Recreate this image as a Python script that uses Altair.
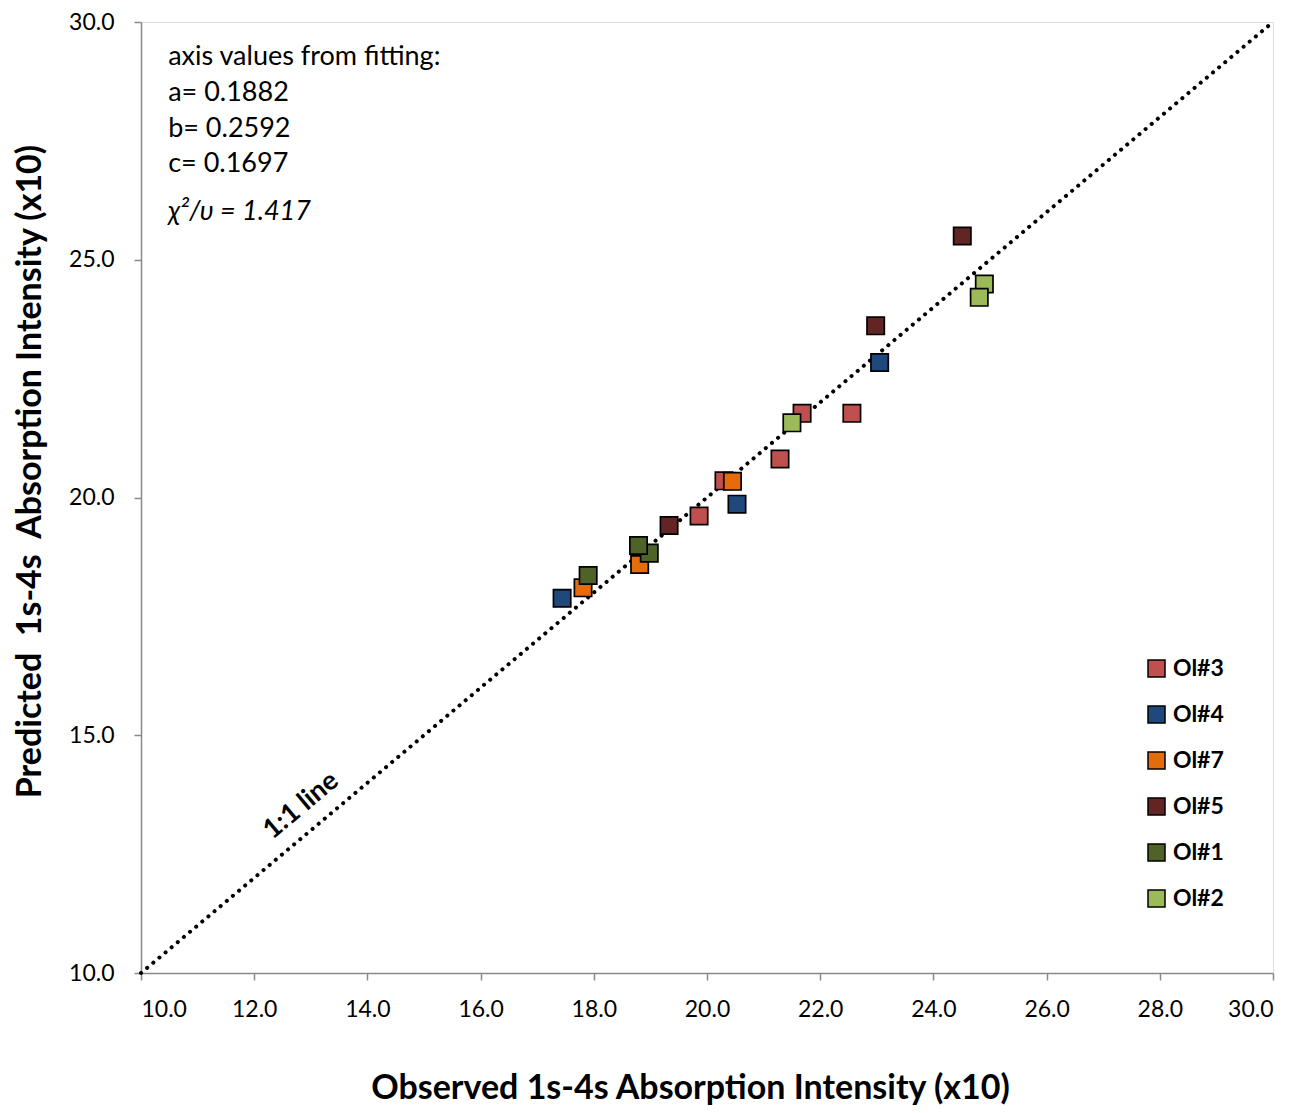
import altair as alt
import pandas as pd

# ---- data ----
series_names = ["Ol#3", "Ol#4", "Ol#7", "Ol#5", "Ol#1", "Ol#2"]
series_colors = ["#C0504D", "#1F497D", "#E46C0A", "#632523", "#4F6228", "#9BBB59"]

ol3_x = [20.30, 19.86, 21.29, 21.68, 22.56]
ol3_y = [20.35, 19.61, 20.81, 21.77, 21.77]
ol4_x = [17.44, 20.53, 23.05]
ol4_y = [17.88, 19.86, 22.84]
ol7_x = [17.81, 18.81, 20.45]
ol7_y = [18.10, 18.59, 20.34]
ol5_x = [19.33, 22.98, 24.51]
ol5_y = [19.41, 23.61, 25.50]
ol1_x = [17.90, 18.98, 18.79]
ol1_y = [18.36, 18.83, 18.99]
ol2_x = [21.50, 24.90, 24.81]
ol2_y = [21.57, 24.49, 24.21]

line_x = [10.0, 30.0]
line_y = [10.0, 30.0]

tick_values = [10, 12, 14, 16, 18, 20, 22, 24, 26, 28, 30]
y_tick_values = [10, 15, 20, 25, 30]

ann_lines = ["axis values from fitting:", "a= 0.1882", "b= 0.2592", "c= 0.1697"]
ann_y = [29.27, 28.51, 27.75, 27.02]
ann_x = 10.48
chi_text = "\u03c7\u00b2/\u03c5 = 1.417"
chi_y = 26.01

oneone_text = "1:1 line"
oneone_x = 12.83
oneone_y = 13.52

x_title = "Observed 1s-4s Absorption Intensity (x10)"
y_title = "Predicted\u00a0 1s-4s\u00a0 Absorption Intensity (x10)"

# ---- build tables ----
rows = []
for name, xs, ys in zip(series_names,
                        [ol3_x, ol4_x, ol7_x, ol5_x, ol1_x, ol2_x],
                        [ol3_y, ol4_y, ol7_y, ol5_y, ol1_y, ol2_y]):
    for xv, yv in zip(xs, ys):
        rows.append({"series": name, "obs": xv, "pred": yv})
pts = pd.DataFrame(rows)
pts["order"] = range(len(pts))

line_df = pd.DataFrame({"obs": line_x, "pred": line_y})
ann_df = pd.DataFrame({"obs": [ann_x] * len(ann_lines), "pred": ann_y, "label": ann_lines})
chi_df = pd.DataFrame({"obs": [ann_x], "pred": [chi_y], "label": [chi_text]})
one_df = pd.DataFrame({"obs": [oneone_x], "pred": [oneone_y], "label": [oneone_text]})

FONT = "Lato"
GRAY = "#898989"

xscale = alt.Scale(domain=[10, 30], nice=False, zero=False)
yscale = alt.Scale(domain=[10, 30], nice=False, zero=False)

x_axis = alt.Axis(values=tick_values, format=".1f", grid=False, tickSize=7,
                  tickColor=GRAY, tickWidth=1.5, domainColor=GRAY, domainWidth=1.5,
                  labelFont=FONT, labelFontSize=23, labelColor="black", labelPadding=18,
                  title=x_title, titleFont=FONT, titleFontSize=34, titleFontWeight="bold",
                  titleColor="black", titleX=549, titleY=115, titleBaseline="middle",
                  titleAlign="center")
y_axis = alt.Axis(values=y_tick_values, format=".1f", grid=False, tickSize=7,
                  tickColor=GRAY, tickWidth=1.5, domainColor=GRAY, domainWidth=1.5,
                  labelFont=FONT, labelFontSize=23, labelColor="black", labelPadding=20,
                  title=y_title, titleFont=FONT, titleFontSize=34, titleFontWeight="bold",
                  titleColor="black", titleX=-111, titleY=449, titleAngle=270,
                  titleBaseline="middle", titleAlign="center")

line = alt.Chart(line_df).mark_line(
    color="black", strokeWidth=4, strokeDash=[0.1, 7.9], strokeCap="round"
).encode(
    x=alt.X("obs:Q", scale=xscale, axis=x_axis),
    y=alt.Y("pred:Q", scale=yscale, axis=y_axis),
)

points = alt.Chart(pts).mark_square(
    size=300, opacity=1, stroke="black", strokeWidth=1.7
).encode(
    x=alt.X("obs:Q", scale=xscale),
    y=alt.Y("pred:Q", scale=yscale),
    color=alt.Color("series:N",
                    scale=alt.Scale(domain=series_names, range=series_colors),
                    sort=series_names,
                    legend=alt.Legend(title=None, orient="none", legendX=1004, legendY=635,
                                      symbolType="square", symbolSize=289,
                                      symbolStrokeColor="black", symbolStrokeWidth=1.5,
                                      symbolOpacity=1,
                                      labelFont=FONT, labelFontSize=23, labelFontWeight="bold",
                                      labelColor="black", labelOffset=5, rowPadding=22,
                                      padding=0)),
    order=alt.Order("order:Q"),
)

ann = alt.Chart(ann_df).mark_text(
    align="left", baseline="middle", font=FONT, fontSize=27, color="black"
).encode(
    x=alt.X("obs:Q", scale=xscale), y=alt.Y("pred:Q", scale=yscale), text="label:N"
)

chi = alt.Chart(chi_df).mark_text(
    align="left", baseline="middle", font=FONT, fontSize=27, fontStyle="italic", color="black"
).encode(
    x=alt.X("obs:Q", scale=xscale), y=alt.Y("pred:Q", scale=yscale), text="label:N"
)

one = alt.Chart(one_df).mark_text(
    align="center", baseline="middle", font=FONT, fontSize=27, fontWeight="bold",
    color="black", angle=320
).encode(
    x=alt.X("obs:Q", scale=xscale), y=alt.Y("pred:Q", scale=yscale), text="label:N"
)

chart = alt.layer(line, one, ann, chi, points).properties(
    width=1132, height=951,
    autosize=alt.AutoSizeParams(type="none"),
    padding={"left": 133, "top": 14, "right": 20, "bottom": 132},
).configure_view(
    stroke=GRAY, strokeWidth=1.5
).configure(background="white")

chart.save("out.html", embed_options={"renderer": "svg", "actions": False})
